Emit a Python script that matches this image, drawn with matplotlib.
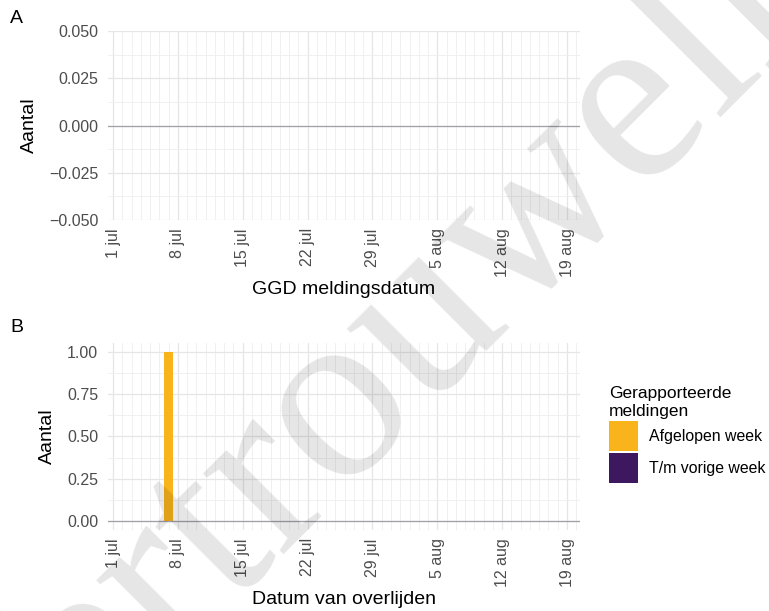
import numpy as np
import matplotlib.pyplot as plt
from matplotlib.patches import Patch

plt.rcParams['font.family'] = ['Liberation Sans', 'DejaVu Sans']

# data
tick_dates = ['2020-07-01', '2020-07-08', '2020-07-15', '2020-07-22',
              '2020-07-29', '2020-08-05', '2020-08-12', '2020-08-19']
tick_labels = ['1 jul', '8 jul', '15 jul', '22 jul', '29 jul', '5 aug', '12 aug', '19 aug']

ggd_dates = []          # panel A: no reports
ggd_counts = []

death_dates = ['2020-07-07']
death_last_week = [1]
death_prev_week = [0]

series_names = ['Afgelopen week', 'T/m vorige week']
series_colors = ['#f9b31b', '#3d185e']

start = np.datetime64('2020-07-01')
def to_day(d):
    return (np.array(d, dtype='datetime64[D]') - start).astype(float)

ticks = to_day(tick_dates)
days = np.arange(ticks[0], ticks[-1] + 2)

fig = plt.figure(figsize=(7.69, 6.11), dpi=100)
axA = fig.add_axes([0.1404, 0.640, 0.6138, 0.309])
axB = fig.add_axes([0.1404, 0.1326, 0.6138, 0.306])

def style(ax, ylim, yticks, yminor, yfmt, xlabel):
    ax.set_xlim(ticks[0] - 0.55, ticks[-1] + 1.4)
    ax.set_ylim(*ylim)
    ax.set_xticks(ticks)
    ax.set_xticklabels(tick_labels, rotation=90)
    ax.set_xticks(days, minor=True)
    ax.set_yticks(yticks)
    ax.set_yticklabels([yfmt.format(v).replace('-', '\u2212') for v in yticks])
    ax.set_yticks(yminor, minor=True)
    ax.grid(which='major', color='#e6e6e6', lw=0.9)
    ax.grid(which='minor', color='#eeeeee', lw=0.6)
    ax.set_axisbelow(True)
    for s in ax.spines.values():
        s.set_visible(False)
    ax.tick_params(which='both', length=0, labelsize=11.5, labelcolor='#4d4d4d')
    ax.tick_params(axis='x', pad=6)
    ax.tick_params(axis='y', pad=7)
    ax.set_ylabel('Aantal', fontsize=14, labelpad=8)
    ax.set_xlabel(xlabel, fontsize=14, labelpad=3)

yA = [-0.05, -0.025, 0, 0.025, 0.05]
style(axA, (-0.05, 0.05), yA, [-0.0375, -0.0125, 0.0125, 0.0375], '{:.3f}', 'GGD meldingsdatum')
axA.bar(to_day(ggd_dates) if ggd_dates else [], ggd_counts, width=0.9, color=series_colors[0])
axA.axhline(0, color='#a39ea9', lw=0.9)

yB = [0, 0.25, 0.5, 0.75, 1.0]
style(axB, (-0.053, 1.053), yB, [0.125, 0.375, 0.625, 0.875], '{:.2f}', 'Datum van overlijden')
xb = to_day(death_dates)
axB.bar(xb, death_prev_week, width=0.9, color=series_colors[1])
axB.bar(xb, death_last_week, bottom=death_prev_week, width=0.9, color=series_colors[0])
axB.axhline(0, color='#a39ea9', lw=0.9)

fig.text(0.013, 0.962, 'A', fontsize=14)
fig.text(0.013, 0.456, 'B', fontsize=14)

handles = [Patch(facecolor=c, edgecolor='none') for c in series_colors]
fig.legend(handles, series_names, title='Gerapporteerde\nmeldingen',
           loc='upper left', bbox_to_anchor=(0.792, 0.368), frameon=False,
           fontsize=11.4, title_fontsize=12.5, alignment='left',
           handlelength=1.8, handleheight=2.5, labelspacing=0.15,
           handletextpad=0.7, borderpad=0, borderaxespad=0)

# watermark
fig.text(0.555, 0.47, 'Vertrouwelijk', fontsize=178, family='Liberation Serif',
         rotation=45, rotation_mode='anchor', ha='center', va='center',
         color='black', alpha=0.1, zorder=10)

fig.savefig('out.png', dpi=100)
